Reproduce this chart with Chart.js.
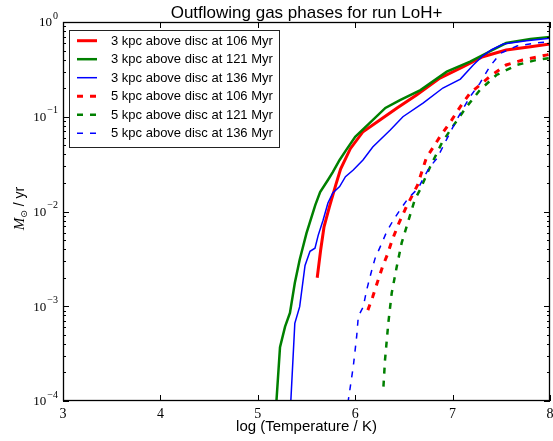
<!DOCTYPE html>
<html>
<head>
<meta charset="utf-8">
<script src="https://cdn.jsdelivr.net/npm/chart.js@4.4.0/dist/chart.umd.min.js"></script>
<style>
  html, body { margin: 0; padding: 0; background: #fff; }
</style>
</head>
<body>
<canvas id="chart" width="553" height="441"></canvas>
<script>
// values (x = log T, y = Msun / yr)
var temp_3kpc_106 = [5.61, 5.645, 5.68, 5.735, 5.80, 5.85, 5.95, 6.08, 6.25, 6.43, 6.63, 6.87, 7.11, 7.31, 7.55, 7.80, 8.0];
var flow_3kpc_106 = [2.0e-3, 3.9e-3, 6.9e-3, 1.12e-2, 1.9e-2, 2.8e-2, 4.6e-2, 6.95e-2, 9.2e-2, 0.124, 0.170, 0.256, 0.337, 0.430, 0.506, 0.548, 0.586];

var temp_3kpc_121 = [5.19, 5.228, 5.28, 5.33, 5.38, 5.43, 5.50, 5.59, 5.64, 5.72, 5.77, 5.84, 5.91, 6.00, 6.15, 6.31, 6.46, 6.67, 6.94, 7.18, 7.35, 7.55, 7.80, 8.0];
var flow_3kpc_121 = [9.5e-5, 3.7e-4, 6.1e-4, 8.5e-4, 1.76e-3, 3.1e-3, 5.9e-3, 1.17e-2, 1.6e-2, 2.15e-2, 2.6e-2, 3.5e-2, 4.5e-2, 6.15e-2, 8.6e-2, 0.124, 0.150, 0.191, 0.299, 0.381, 0.471, 0.600, 0.662, 0.695];

var temp_3kpc_136 = [5.338, 5.38, 5.43, 5.485, 5.536, 5.587, 5.62, 5.67, 5.72, 5.77, 5.84, 5.90, 5.98, 6.08, 6.18, 6.36, 6.49, 6.70, 6.90, 7.08, 7.21, 7.31, 7.40, 7.52, 7.76, 8.0];
var flow_3kpc_136 = [9.5e-5, 6.6e-4, 9.9e-4, 2.7e-3, 3.8e-3, 4.1e-3, 5.6e-3, 8.1e-3, 1.23e-2, 1.57e-2, 1.83e-2, 2.33e-2, 2.74e-2, 3.5e-2, 4.8e-2, 7.25e-2, 0.100, 0.140, 0.201, 0.25, 0.35, 0.44, 0.51, 0.586, 0.635, 0.673];

var temp_5kpc_106 = [6.13, 6.18, 6.23, 6.28, 6.33, 6.38, 6.45, 6.52, 6.64, 6.73, 6.87, 6.99, 7.08, 7.18, 7.28, 7.38, 7.55, 7.72, 7.97, 8.0];
var flow_5kpc_106 = [9.1e-4, 1.26e-3, 1.82e-3, 2.6e-3, 3.5e-3, 5.0e-3, 7.6e-3, 1.09e-2, 1.9e-2, 3.67e-2, 6.15e-2, 9.2e-2, 0.128, 0.178, 0.216, 0.265, 0.352, 0.397, 0.45, 0.46];

var temp_5kpc_121 = [6.29, 6.306, 6.34, 6.375, 6.426, 6.477, 6.54, 6.61, 6.665, 6.77, 6.89, 7.00, 7.145, 7.28, 7.45, 7.66, 7.86, 8.0];
var flow_5kpc_121 = [1.42e-4, 2.7e-4, 6.65e-4, 1.38e-3, 2.6e-3, 4.66e-3, 7.6e-3, 1.32e-2, 1.69e-2, 2.97e-2, 5.3e-2, 7.85e-2, 0.128, 0.191, 0.276, 0.352, 0.397, 0.417];

var temp_5kpc_136 = [5.925, 5.98, 6.015, 6.032, 6.083, 6.118, 6.17, 6.204, 6.272, 6.323, 6.391, 6.46, 6.545, 6.648, 6.699, 6.768, 6.84, 6.94, 7.04, 7.18, 7.28, 7.38, 7.49, 7.66, 7.83, 8.0];
var flow_5kpc_136 = [9.5e-5, 2.3e-4, 4.8e-4, 7.8e-4, 9.9e-4, 1.49e-3, 2.4e-3, 3.2e-3, 4.6e-3, 6.1e-3, 8.1e-3, 1.04e-2, 1.38e-2, 1.76e-2, 2.24e-2, 2.97e-2, 3.64e-2, 5.8e-2, 9.2e-2, 0.163, 0.225, 0.337, 0.467, 0.558, 0.596, 0.620];

var series_labels = [
    '3 kpc above disc at 106 Myr',
    '3 kpc above disc at 121 Myr',
    '3 kpc above disc at 136 Myr',
    '5 kpc above disc at 106 Myr',
    '5 kpc above disc at 121 Myr',
    '5 kpc above disc at 136 Myr'
];
var x_ticks = [3, 4, 5, 6, 7, 8];
var y_ticks = [1e-4, 1e-3, 1e-2, 1e-1, 1];
var y_tick_exponents = ['\u22124', '\u22123', '\u22122', '\u22121', '0'];
var chart_title = 'Outflowing gas phases for run LoH+';
var x_title = 'log (Temperature / K)';

var _make_set = function(idx, xs, ys, color, width, dash) {
    return {
        label: series_labels[idx],
        data: xs.map(function(x, i) { return {x: x, y: ys[i]}; }),
        borderColor: color,
        backgroundColor: color,
        borderWidth: width,
        borderDash: dash,
        pointRadius: 0,
        tension: 0,
        fill: false,
        clip: 0,
        order: 6 - idx
    };
};

var datasets = [
    _make_set(0, temp_3kpc_106, flow_3kpc_106, '#ff0000', 3, []),
    _make_set(1, temp_3kpc_121, flow_3kpc_121, '#008000', 2.5, []),
    _make_set(2, temp_3kpc_136, flow_3kpc_136, '#0000ff', 1.5, []),
    _make_set(3, temp_5kpc_106, flow_5kpc_106, '#ff0000', 3, [6, 7]),
    _make_set(4, temp_5kpc_121, flow_5kpc_121, '#008000', 2.5, [6, 7]),
    _make_set(5, temp_5kpc_136, flow_5kpc_136, '#0000ff', 1.5, [6, 7])
];

// frame, inward ticks, y labels, title and the boxed legend
var decorations = {
    id: 'decorations',
    afterDatasetsDraw: function(chart) {
        var c = chart.ctx, a = chart.chartArea;
        var xs = chart.scales.x, ys = chart.scales.y;
        c.save();
        c.strokeStyle = '#000';
        c.lineWidth = 1;

        c.beginPath();
        x_ticks.forEach(function(v) {
            var px = Math.round(xs.getPixelForValue(v)) + 0.5;
            c.moveTo(px, a.bottom); c.lineTo(px, a.bottom - 6);
            c.moveTo(px, a.top); c.lineTo(px, a.top + 6);
        });
        for (var d = -4; d <= 0; d++) {
            for (var m = 1; m <= 9; m++) {
                var v = m * Math.pow(10, d);
                if (v > 1) break;
                var len = m === 1 ? 6 : 3;
                var py = Math.round(ys.getPixelForValue(v)) + 0.5;
                c.moveTo(a.left, py); c.lineTo(a.left + len, py);
                c.moveTo(a.right, py); c.lineTo(a.right - len, py);
            }
        }
        c.stroke();

        c.lineWidth = 1.3;
        c.strokeRect(a.left + 0.5, a.top + 0.5, a.right - a.left - 1, a.bottom - a.top - 1);

        // y tick labels 10^n
        c.fillStyle = '#000';
        c.textBaseline = 'middle';
        y_ticks.forEach(function(v, i) {
            var py = ys.getPixelForValue(v);
            c.font = '10px "Liberation Serif"';
            var ew = c.measureText(y_tick_exponents[i]).width;
            c.textAlign = 'right';
            c.fillText(y_tick_exponents[i], a.left - 5, py - 6);
            c.font = '13px "Liberation Serif"';
            c.fillText('10', a.left - 6 - ew, py + 1);
        });

        // title
        c.textAlign = 'center';
        c.textBaseline = 'alphabetic';
        c.font = '17px "Liberation Sans"';
        c.fillText(chart_title, (a.left + a.right) / 2, 17.5);

        // y axis label, M_sun / yr
        c.save();
        c.translate(19, (a.top + a.bottom) / 2 - 3);
        c.rotate(-Math.PI / 2);
        c.textAlign = 'left';
        c.font = 'italic 15px "Liberation Serif"';
        var w1 = c.measureText('M').width;
        c.font = '9px "DejaVu Sans"';
        var w2 = c.measureText('\u2299').width;
        c.font = '14px "Liberation Sans"';
        var w3 = c.measureText(' / yr').width;
        var x0 = -(w1 + w2 + w3) / 2;
        c.font = 'italic 15px "Liberation Serif"';
        c.fillText('M', x0, 5);
        c.font = '9px "DejaVu Sans"';
        c.fillText('\u2299', x0 + w1, 8);
        c.font = '14px "Liberation Sans"';
        c.fillText(' / yr', x0 + w1 + w2, 5);
        c.restore();

        // legend box
        var lx = a.left + 6, ly = a.top + 8, lw = 210, lh = 117;
        c.fillStyle = '#fff';
        c.fillRect(lx, ly, lw, lh);
        c.lineWidth = 1;
        c.strokeStyle = '#222';
        c.strokeRect(lx + 0.5, ly + 0.5, lw, lh);
        chart.data.datasets.forEach(function(ds, i) {
            var ry = ly + 10.7 + i * 18.5;
            c.beginPath();
            c.strokeStyle = ds.borderColor;
            c.lineWidth = ds.borderWidth;
            c.setLineDash(ds.borderDash);
            c.moveTo(lx + 8, ry);
            c.lineTo(lx + 28, ry);
            c.stroke();
            c.setLineDash([]);
            c.fillStyle = '#000';
            c.font = '13px "Liberation Sans"';
            c.textAlign = 'left';
            c.textBaseline = 'middle';
            c.fillText(ds.label, lx + 42, ry + 0.5);
        });
        c.restore();
    }
};

var chart = new Chart(document.getElementById('chart'), {
    type: 'line',
    data: { datasets: datasets },
    options: {
        responsive: false,
        animation: false,
        devicePixelRatio: 1,
        layout: { padding: { top: 22, right: 3, left: 0, bottom: 0 } },
        plugins: {
            legend: { display: false },
            title: { display: false },
            tooltip: { enabled: false }
        },
        scales: {
            x: {
                type: 'linear',
                min: 3,
                max: 8,
                afterBuildTicks: function(s) {
                    s.ticks = x_ticks.map(function(v) { return {value: v}; });
                },
                afterFit: function(s) {
                    s.height = 40;
                    s.paddingLeft = 0;
                    s.paddingRight = 0;
                },
                grid: { display: false, drawTicks: false },
                border: { display: false },
                ticks: {
                    color: '#000',
                    font: { family: 'Liberation Serif', size: 14 },
                    padding: 5,
                    maxRotation: 0
                },
                title: {
                    display: true,
                    text: x_title,
                    color: '#000',
                    font: { family: 'Liberation Sans', size: 15 },
                    padding: { top: 0, bottom: 5 }
                }
            },
            y: {
                type: 'logarithmic',
                min: 1e-4,
                max: 1,
                afterBuildTicks: function(s) {
                    s.ticks = y_ticks.map(function(v) { return {value: v}; });
                },
                afterFit: function(s) {
                    s.width = 63;
                    s.paddingTop = 0;
                    s.paddingBottom = 0;
                },
                grid: { display: false, drawTicks: false },
                border: { display: false },
                ticks: { display: false }
            }
        }
    },
    plugins: [decorations]
});
</script>
</body>
</html>
